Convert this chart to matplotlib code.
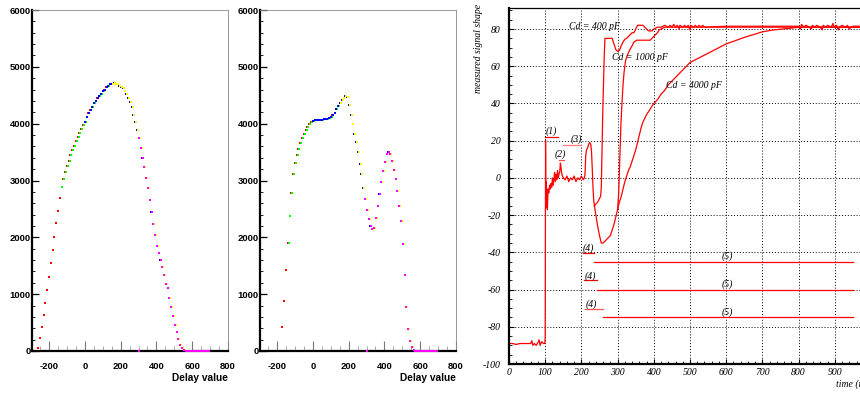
import numpy as np
import matplotlib.pyplot as plt
from matplotlib.ticker import MultipleLocator

### delay scans (left two panels), signal read every 10 delay units ###
delay_a = np.arange(-260, 700, 10)
signal_a = [60, 230, 420, 630, 850, 1080, 1300, 1540, 1770, 2010,
            2250, 2470, 2690, 2880, 3030, 3150, 3250, 3340, 3450, 3530,
            3600, 3690, 3760, 3840, 3900, 3970, 4030, 4110, 4180, 4240,
            4300, 4360, 4400, 4450, 4490, 4530, 4570, 4600, 4640, 4670,
            4690, 4700, 4710, 4700, 4690, 4670, 4650, 4620, 4570, 4520,
            4460, 4390, 4290, 4160, 4030, 3890, 3750, 3580, 3400, 3230,
            3050, 2870, 2650, 2440, 2230, 2040, 1850, 1720, 1600, 1480,
            1340, 1180, 1100, 930, 770, 610, 460, 330, 210, 110,
            45, 12, 0, 0, 0, 0, 0, 0, 0, 0,
            0, 0, 0, 0, 0, 0]
ranges_a = {'red': (-260, 120), 'lime': (-130, 210), 'blue': (0, 420),
            'yellow': (150, 560), 'magenta': (300, 690)}

delay_b = np.arange(-170, 700, 10)
signal_b = [420, 880, 1420, 1900, 2380, 2780, 3110, 3310, 3450, 3560,
            3660, 3740, 3820, 3890, 3950, 4000, 4030, 4050, 4060, 4060,
            4060, 4065, 4070, 4075, 4080, 4090, 4100, 4120, 4150, 4190,
            4250, 4310, 4370, 4420, 4460, 4480, 4470, 4330, 4150, 3990,
            3820, 3680, 3510, 3290, 3110, 2870, 2680, 2480, 2320, 2200,
            2140, 2170, 2340, 2560, 2760, 2970, 3160, 3330, 3460, 3510,
            3460, 3340, 3180, 3030, 2820, 2560, 2280, 1880, 1330, 780,
            380, 180, 70, 25, 5, 0, 0, 0, 0, 0,
            0, 0, 0, 0, 0, 0, 0]
ranges_b = {'red': (-170, 110), 'lime': (-140, 280), 'blue': (0, 430),
            'yellow': (150, 570), 'magenta': (290, 690)}

stray_delay = [300]
stray_signal = [0]

### measured signal shape (right panel) ###
t_common = [0, 10, 20, 30, 40, 50, 60, 63, 66, 70, 75, 80, 83, 86, 90, 95, 99,
            100, 101, 102, 103, 104, 105, 106, 108, 110, 112, 114, 116, 118,
            120, 122, 124, 126, 128, 130, 132, 134, 136, 138, 140, 142, 144,
            146, 148, 150, 155, 160, 165, 170, 175, 180, 185, 190, 195, 200,
            205, 208, 210, 212, 214, 217, 220, 223, 226, 228, 230, 232, 234, 236]
s_common = [-89, -89, -89.5, -89, -89, -89, -89, -87.5, -90, -89, -90, -88.5,
            -87, -90, -88, -89, -89, -85, 20, -16, -2, -14, -6, -17, -6, -8,
            -4, -6, -3, -5, 0, -4, -1, 3, -2, 2, -1, 4, 0, 2, 3, 8, 5, 2, 1,
            0, -1, 1, -2, 0, -1, 1, -2, 0, -1, 1, -1, 0, 2, 12, 15, 16, 18,
            19, 18, 14, 5, -5, -12, -15]

t_400 = [236, 240, 245, 250, 253, 255, 257, 259, 261, 263, 265, 270, 280, 285,
         290, 295, 300, 305, 310, 315, 320, 325, 330, 335, 340, 345, 350, 355,
         360, 370, 375, 380, 385, 395, 400, 405, 410, 420, 430, 440, 445, 450,
         455, 460, 465, 470, 472, 480, 485, 490, 495, 500, 502, 510, 515, 520,
         525, 530, 535, 540, 600, 700, 800, 805, 808, 815, 820, 830, 835, 838,
         845, 850, 860, 865, 868, 875, 880, 890, 895, 898, 905, 910, 913, 920,
         930, 935, 940, 945, 950, 1000]
s_400 = [-15, -14, -13, -11, -10, -5, 15, 35, 50, 65, 75, 75, 75, 75,
         72, 69, 68, 68.5, 71, 73, 74.5, 75, 76, 77, 78, 78, 80, 82,
         82, 82, 81, 80, 79, 79, 80, 80.5, 81, 81, 82, 81, 82, 81,
         82.5, 81, 82, 80, 82, 81, 82, 81, 82, 79.5, 82, 81, 82, 81,
         82, 81, 82, 81, 81.5, 81.5, 81.5, 80, 82.5, 81, 82, 81, 80, 82,
         81, 82, 81, 79.5, 82, 81, 82, 81, 83, 81, 82, 79.5, 81, 82,
         81, 82, 80, 81, 81.5, 81.5]

t_dip = [236, 240, 245, 250, 255, 260, 265, 270, 275, 280, 285, 290, 295, 300]
s_dip = [-15, -20, -26, -31, -35, -35, -34, -33, -32, -31, -28, -25, -21, -17]

t_1000 = [300, 303, 306, 309, 312, 315, 318, 322, 327, 334, 340, 345, 353,
          360, 370, 380, 390, 395, 400, 405, 410, 415, 420, 430, 1000]
s_1000 = [-17, -8, 10, 28, 40, 50, 57, 63, 66, 69, 71, 73, 74,
          74, 74, 74, 74, 75, 76, 77, 78, 79.5, 80, 81, 81]

t_4000 = [300, 305, 310, 315, 320, 325, 330, 335, 340, 345, 350, 355, 360,
          365, 370, 375, 380, 390, 400, 410, 420, 430, 440, 450, 460, 470,
          480, 490, 500, 510, 520, 530, 540, 550, 560, 570, 580, 600, 650,
          700, 730, 780, 800, 1000]
s_4000 = [-17, -13, -10, -6, -2, 1, 4, 6, 9, 12, 15, 19, 23,
          27, 30, 32, 34, 37, 40, 42, 45, 47, 50, 52, 54, 56,
          58, 60, 62, 63, 64, 65, 66, 67, 68, 69, 70, 72, 75.5,
          78.5, 79.5, 80.5, 81, 81]

level_5 = [-45, -60, -75]
start_5 = [235, 242, 260]
end_5 = 950

fig = plt.figure(figsize=(8.6, 3.93), dpi=100)
W, H = 860, 393

bold = dict(family='Liberation Sans', fontweight='bold', fontsize=6.8)
ital = dict(family='Liberation Serif', style='italic', fontsize=7)


def scan_panel(left, delay, signal, ranges):
    ax = fig.add_axes([left / W, 42 / H, 196 / W, 341 / H])
    signal = np.array(signal)
    shift = {'red': 0, 'lime': 5, 'blue': 2, 'yellow': 7, 'magenta': 3}
    for color, (lo, hi) in ranges.items():
        sel = (delay >= lo) & (delay <= hi)
        ax.plot(delay[sel] + shift[color], signal[sel], ls='none', marker='s',
                ms=1.7, mew=0, color=color, clip_on=False, zorder=3)
    ax.plot(stray_delay, stray_signal, ls='none', marker='s', ms=1.7, mew=0,
            color='magenta', clip_on=False, zorder=3)
    ax.set_xlim(-295, 800)
    ax.set_ylim(0, 6000)
    xt = [-200, 0, 200, 400, 600, 800]
    yt = [0, 1000, 2000, 3000, 4000, 5000, 6000]
    ax.set_xticks(xt, [str(v) for v in xt], **bold)
    ax.set_yticks(yt, [str(v) for v in yt], **bold)
    ax.xaxis.set_minor_locator(MultipleLocator(50))
    ax.yaxis.set_minor_locator(MultipleLocator(200))
    ax.tick_params(axis='x', which='major', direction='in', length=7, width=0.8,
                   color='#777777', pad=8, top=False)
    ax.tick_params(axis='x', which='minor', direction='in', length=3.5, width=0.6,
                   color='#999999', top=False)
    ax.tick_params(axis='y', which='major', direction='in', length=5, width=0.9,
                   pad=1, right=False)
    ax.tick_params(axis='y', which='minor', direction='in', length=2.2, width=0.6,
                   right=False)
    for s in ['left', 'bottom']:
        ax.spines[s].set_linewidth(1.6)
    for s in ['top', 'right']:
        ax.spines[s].set_linewidth(0.6)
        ax.spines[s].set_color('#888888')
    ax.text(1.0, -0.079, 'Delay value', transform=ax.transAxes, ha='right',
            va='center', family='Liberation Sans', fontweight='bold', fontsize=7.3)
    return ax


ax1 = scan_panel(32, delay_a, signal_a, ranges_a)
ax2 = scan_panel(260, delay_b, signal_b, ranges_b)

###Right panel: signal shape vs time###
ax3 = fig.add_axes([509 / W, 29 / H, 362 / W, 356 / H])
ax3.set_axisbelow(True)
ax3.grid(True, color='black', ls=(0, (1, 2)), lw=0.7)
red = '#ff0000'
lw = 0.9
ax3.plot(t_common, s_common, color=red, lw=lw)
ax3.plot(t_400, s_400, color=red, lw=lw)
ax3.plot(t_dip, s_dip, color=red, lw=lw)
ax3.plot(t_1000, s_1000, color=red, lw=lw)
ax3.plot(t_4000, s_4000, color=red, lw=lw)
for lv, st in zip(level_5, start_5):
    ax3.plot([st, end_5], [lv, lv], color=red, lw=lw)
    ax3.text(603, lv + 2.8, '(5)', ha='center', va='center', **ital)

marks = [('(1)', 118, 25, 100, 134, 22.2, red),
         ('(2)', 143, 12.8, 139, 152, 9.7, '#ff5050'),
         ('(3)', 185, 20.8, 148, 200, 17.9, '#ff7a7a'),
         ('(4)', 219, -37.7, 205, 235, -40.4, red),
         ('(4)', 224, -52.8, 208, 242, -55.1, red),
         ('(4)', 228, -67.6, 210, 260, -70.2, '#ff5050')]
for txt, tx, ty, u0, u1, uy, c in marks:
    ax3.text(tx, ty, txt, ha='center', va='center', **ital)
    ax3.plot([u0, u1], [uy, uy], color=c, lw=lw)

ax3.text(235, 81.5, 'Cd = 400 pF', ha='center', va='center', **ital)
ax3.text(361, 64.6, 'Cd = 1000 pF', ha='center', va='center', **ital)
ax3.text(512, 49.6, 'Cd = 4000 pF', ha='center', va='center', **ital)

ax3.set_xlim(0, 1000)
ax3.set_ylim(-100, 91.3)
xt3 = list(range(0, 901, 100))
yt3 = list(range(-100, 81, 20))
ax3.set_xticks(xt3, [str(v) for v in xt3], **ital)
ax3.set_yticks(yt3, [str(v) for v in yt3], **ital)
ax3.xaxis.set_minor_locator(MultipleLocator(20))
ax3.yaxis.set_minor_locator(MultipleLocator(5))
ax3.tick_params(which='major', direction='in', length=3.5, width=0.8)
ax3.tick_params(which='minor', direction='in', length=2, width=0.6)
ax3.tick_params(axis='y', pad=6)
ax3.tick_params(axis='x', pad=3)
for s in ['left', 'bottom']:
    ax3.spines[s].set_linewidth(1.6)
ax3.spines['top'].set_linewidth(0.9)
# the reference crops this title at the right edge
ax3.text(1.0, -0.056, 'time (ns)', transform=ax3.transAxes, ha='right',
         va='center', **ital)
fig.text(478 / W, 1 - 4 / H, 'measured signal shape', rotation=90, ha='center',
         va='top', **ital)

fig.savefig('out.png', dpi=100)
